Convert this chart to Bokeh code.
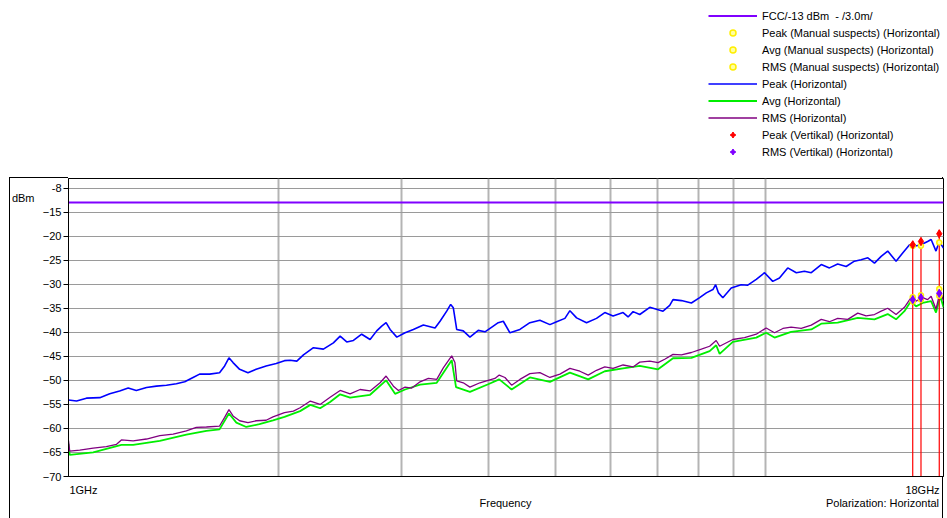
import math
from bokeh.plotting import figure
from bokeh.layouts import column
from bokeh.models import (FixedTicker, Legend, LegendItem, LinearAxis, LinearScale, Range1d)
from bokeh.embed import file_html
from bokeh.resources import INLINE

FONT = "Liberation Sans"

# ---------------- data (frequency in GHz, level in dBm) ----------------
limit_freq = [1.0, 18.0]
limit_dbm = [-13.0, -13.0]

peak_freq = [1.000, 1.027, 1.061, 1.109, 1.146, 1.184, 1.218, 1.251, 1.294, 1.337,
             1.382, 1.428, 1.468, 1.509, 1.542, 1.594, 1.647, 1.675, 1.699, 1.722,
             1.760, 1.809, 1.859, 1.921, 1.986, 2.041, 2.080, 2.126, 2.173, 2.246,
             2.321, 2.399, 2.453, 2.507, 2.563, 2.634, 2.708, 2.768, 2.814, 2.855,
             2.893, 2.958, 3.040, 3.124, 3.229, 3.356, 3.412, 3.488, 3.534, 3.565,
             3.605, 3.684, 3.766, 3.871, 3.958, 4.068, 4.135, 4.205, 4.298, 4.442,
             4.591, 4.745, 4.905, 5.015, 5.154, 5.240, 5.357, 5.536, 5.721, 5.880,
             6.043, 6.246, 6.350, 6.456, 6.600, 6.822, 6.974, 7.127, 7.286, 7.366,
             7.573, 7.827, 8.044, 8.223, 8.404, 8.480, 8.560, 8.684, 8.928, 9.227,
             9.430, 9.698, 9.967, 10.24, 10.47, 10.76, 11.07, 11.37, 11.63, 12.02,
             12.35, 12.69, 13.05, 13.41, 13.71, 14.02, 14.33, 14.65, 14.97, 15.39,
             15.73, 16.09, 16.35, 16.71, 17.08, 17.28, 17.56, 17.75, 18.0]
peak_dbm = [-54.1, -54.3, -53.7, -53.6, -52.8, -52.2, -51.6, -52.1, -51.5, -51.2,
            -51.0, -50.7, -50.3, -49.4, -48.7, -48.7, -48.4, -47.0, -45.3, -46.3,
            -47.7, -48.4, -47.7, -47.0, -46.5, -45.9, -45.8, -46.0, -44.7, -43.2,
            -43.5, -42.2, -40.8, -42.0, -41.7, -40.4, -41.5, -39.7, -38.7, -38.0,
            -39.4, -41.0, -40.1, -39.4, -38.5, -39.1, -37.7, -35.6, -34.2, -34.9,
            -39.4, -39.7, -41.0, -39.6, -39.9, -38.7, -38.0, -37.7, -40.1, -39.4,
            -38.0, -37.5, -38.4, -37.8, -37.1, -35.5, -37.0, -38.0, -37.1, -35.9,
            -36.6, -35.9, -36.8, -35.7, -36.3, -34.8, -35.2, -35.6, -34.4, -33.2,
            -33.4, -33.9, -32.8, -31.8, -31.1, -30.1, -31.8, -32.8, -30.8, -30.1,
            -30.2, -29.0, -27.6, -29.4, -28.7, -26.6, -27.6, -27.3, -27.6, -25.9,
            -26.6, -25.8, -26.3, -25.2, -24.9, -24.5, -25.6, -24.2, -23.1, -25.2,
            -23.5, -21.8, -22.1, -21.8, -21.1, -20.7, -23.1, -21.1, -22.5]

rms_freq = [1.000, 1.004, 1.038, 1.085, 1.133, 1.172, 1.191, 1.238, 1.294, 1.352,
            1.413, 1.476, 1.525, 1.577, 1.647, 1.675, 1.699, 1.722, 1.760, 1.809,
            1.859, 1.921, 1.965, 2.041, 2.102, 2.149, 2.223, 2.296, 2.373, 2.453,
            2.535, 2.620, 2.708, 2.799, 2.855, 2.925, 2.974, 3.040, 3.108, 3.194,
            3.283, 3.375, 3.449, 3.546, 3.584, 3.605, 3.684, 3.766, 3.893, 4.000,
            4.090, 4.149, 4.228, 4.322, 4.442, 4.591, 4.745, 4.905, 5.070, 5.240,
            5.415, 5.566, 5.721, 5.880, 6.043, 6.246, 6.456, 6.600, 6.822, 7.011,
            7.167, 7.366, 7.573, 7.827, 8.089, 8.313, 8.495, 8.592, 8.975, 9.328,
            9.698, 10.02, 10.30, 10.59, 10.88, 11.25, 11.63, 12.02, 12.35, 12.69,
            13.12, 13.56, 13.94, 14.33, 14.65, 14.97, 15.39, 15.82, 16.17, 16.44,
            16.80, 17.08, 17.28, 17.56, 17.81, 18.0]
rms_dbm = [-62.5, -64.7, -64.5, -64.1, -63.8, -63.3, -62.4, -62.6, -62.2, -61.5,
           -61.2, -60.5, -59.8, -59.7, -59.5, -57.7, -56.1, -57.4, -58.4, -58.8,
           -58.4, -58.3, -57.6, -56.7, -56.4, -55.7, -54.3, -55.0, -53.5, -52.1,
           -52.8, -51.9, -52.2, -50.5, -49.1, -51.2, -52.1, -51.4, -51.6, -50.3,
           -49.6, -49.8, -47.4, -44.9, -46.3, -50.1, -50.5, -51.4, -50.5, -50.0,
           -49.6, -48.9, -49.4, -51.0, -49.8, -48.6, -48.4, -49.4, -48.7, -47.5,
           -48.1, -48.9, -47.9, -47.2, -47.5, -46.8, -47.2, -46.2, -46.0, -46.3,
           -45.6, -44.6, -44.7, -44.2, -43.5, -42.9, -41.7, -42.9, -41.5, -41.1,
           -40.4, -39.1, -40.1, -39.2, -38.9, -39.2, -38.5, -37.3, -37.8, -37.1,
           -37.3, -36.0, -36.6, -36.3, -35.6, -35.0, -36.3, -34.8, -32.8, -33.5,
           -32.8, -33.2, -32.5, -35.2, -31.4, -33.5]

avg_freq = [1.000, 1.004, 1.085, 1.191, 1.238, 1.352, 1.476, 1.577, 1.647, 1.699,
            1.741, 1.799, 1.879, 1.965, 2.041, 2.149, 2.223, 2.296, 2.373, 2.453,
            2.535, 2.708, 2.855, 2.941, 3.040, 3.194, 3.375, 3.546, 3.597, 3.766,
            4.000, 4.149, 4.322, 4.591, 4.905, 5.240, 5.566, 5.880, 6.246, 6.600,
            7.011, 7.366, 7.827, 8.313, 8.495, 8.592, 8.975, 9.698, 10.02, 10.30,
            10.88, 11.63, 12.02, 12.69, 13.56, 14.33, 14.97, 15.39, 15.82, 16.17,
            16.44, 16.80, 17.28, 17.56, 17.81, 18.0]
avg_dbm = [-63.2, -65.5, -65.0, -63.4, -63.4, -62.6, -61.3, -60.5, -60.2, -56.9,
           -58.8, -59.7, -59.1, -58.3, -57.6, -56.4, -55.1, -55.8, -54.5, -52.9,
           -53.6, -53.0, -50.0, -52.8, -51.9, -50.9, -50.5, -45.8, -51.4, -52.4,
           -50.8, -49.8, -51.9, -49.4, -50.3, -48.4, -49.8, -48.1, -47.5, -47.0,
           -47.7, -45.4, -45.3, -43.9, -42.7, -44.5, -42.0, -41.1, -40.1, -41.1,
           -39.9, -39.4, -38.2, -38.0, -37.0, -37.3, -36.2, -37.3, -35.6, -33.5,
           -34.6, -33.9, -33.5, -35.9, -32.5, -34.8]

marker_freq = [16.26, 16.71, 17.75]
peak_marker_dbm = [-21.8, -21.1, -19.5]
rms_marker_dbm = [-33.2, -32.8, -31.9]
suspect_peak_dbm = [-22.0, -22.0, -21.3]
suspect_avg_dbm = [-33.6, -33.2, -32.4]
suspect_rms_dbm = [-32.7, -32.3, -31.0]
marker_floor = [-70.0, -70.0, -70.0]

y_ticks = [-70, -65, -60, -55, -50, -45, -40, -35, -30, -25, -20, -15, -10]
y_top_label = {-10: "-8"}
x_grid_ticks = [2, 3, 4, 5, 6, 7, 8, 9, 10]

# texts placed along the frame edges (positions across the frame, px)
freq_end_labels = {15: "1GHz", 854: "18GHz"}
footer_labels = {437: "Frequency", 814: "Polarization: Horizontal"}
unit_label = {-12: "dBm"}

W = 947
LEG_H = 177
H = 518 - LEG_H
ML, MR, MT, MB = 68, 4, 1, 42
FW, FH = W - ML - MR, H - MT - MB

# ---------------- styles shared by plot and legend ----------------
LIMIT = dict(line_color="#8000ff", line_width=2)
AVG = dict(line_color="#00ee00", line_width=1.8)
RMS = dict(line_color="#800080", line_width=1.3)
PEAK = dict(line_color="#0000ff", line_width=1.6)
SUSPECT = dict(marker="circle", size=5, line_color="#ffee00", fill_color="#ffffa0", line_width=1.5)
PM_DASH = dict(marker="dash", angle=math.pi / 2, size=8, line_color="#ff0000", line_width=1.5)
PM = dict(marker="diamond", size=8, line_color="#ff0000", fill_color="#ff0000")
RM_DASH = dict(marker="dash", angle=math.pi / 2, size=8, line_color="#8000ff", line_width=1.5)
RM = dict(marker="diamond", size=8, line_color="#8000ff", fill_color="#8000ff")

# ---------------- main chart ----------------
p = figure(width=W, height=H, x_axis_type="log",
           x_range=Range1d(1, 18), y_range=Range1d(-70, -8),
           output_backend="svg", toolbar_location=None,
           min_border_left=ML, min_border_right=MR,
           min_border_top=MT, min_border_bottom=MB)
p.title.visible = False
p.background_fill_color = "white"
p.border_fill_alpha = 0
p.outline_line_color = "black"
p.outline_line_width = 1
# outer box of the chart area: left edge, top edge left of the frame, right edge
p.styles = {
    "background-color": "white",
    "background-image": "linear-gradient(#000,#000), linear-gradient(#000,#000), linear-gradient(#000,#000)",
    "background-size": f"1px {H}px, {ML - 9}px 1px, 1px {H}px",
    "background-position": f"9px 0px, 9px 0px, {W - MR - 1}px 0px",
    "background-repeat": "no-repeat",
}

p.extra_x_ranges = {"pos": Range1d(0, FW)}
p.extra_x_scales = {"pos": LinearScale()}

def text_axis(**kw):
    base = dict(major_tick_out=0, major_tick_in=0, minor_tick_out=0, minor_tick_in=0,
                major_label_text_font=FONT, major_label_text_font_size="11px",
                major_label_text_color="black", axis_line_alpha=0)
    base.update(kw)
    return LinearAxis(**base)

yax = p.yaxis[0]
yax.ticker = FixedTicker(ticks=y_ticks)
yax.major_label_overrides = y_top_label
yax.major_label_text_font = FONT
yax.major_label_text_font_size = "11px"
yax.major_label_text_color = "black"
yax.major_label_standoff = 2
yax.major_tick_out = 5
yax.major_tick_in = 0
yax.minor_tick_out = 0
yax.minor_tick_in = 0
yax.major_tick_line_color = "black"
yax.axis_line_color = "black"

p.add_layout(text_axis(ticker=FixedTicker(ticks=list(unit_label.keys())),
                       major_label_overrides=unit_label, major_label_standoff=5), "left")

xax = p.xaxis[0]
xax.ticker = FixedTicker(ticks=x_grid_ticks)
xax.major_label_overrides = {t: "" for t in x_grid_ticks}
xax.major_label_text_font_size = "11px"
xax.major_label_standoff = 0
xax.major_tick_out = 0
xax.major_tick_in = 0
xax.minor_tick_out = 0
xax.minor_tick_in = 0
xax.axis_line_color = "black"

p.add_layout(text_axis(x_range_name="pos",
                       ticker=FixedTicker(ticks=list(freq_end_labels.keys())),
                       major_label_overrides=freq_end_labels, major_label_standoff=7), "below")
p.add_layout(text_axis(x_range_name="pos",
                       ticker=FixedTicker(ticks=list(footer_labels.keys())),
                       major_label_overrides=footer_labels, major_label_standoff=-2), "below")

p.ygrid.grid_line_color = "#9a9a9a"
p.ygrid.grid_line_width = 1.2
p.xgrid.grid_line_color = "#b4b4b4"
p.xgrid.grid_line_width = 2

p.line(limit_freq, limit_dbm, **LIMIT)
p.line(avg_freq, avg_dbm, **AVG)
p.line(rms_freq, rms_dbm, **RMS)
p.line(peak_freq, peak_dbm, **PEAK)
p.segment(marker_freq, peak_marker_dbm, marker_freq, marker_floor,
          line_color="#ff0000", line_width=1.2)
p.scatter(marker_freq, suspect_peak_dbm, **SUSPECT)
p.scatter(marker_freq, suspect_avg_dbm, **SUSPECT)
p.scatter(marker_freq, suspect_rms_dbm, **SUSPECT)
p.scatter(marker_freq, peak_marker_dbm, **PM_DASH)
p.scatter(marker_freq, peak_marker_dbm, **PM)
p.scatter(marker_freq, rms_marker_dbm, **RM_DASH)
p.scatter(marker_freq, rms_marker_dbm, **RM)

# ---------------- legend strip above the chart ----------------
# (its ranges lie outside the data, so only the legend keys show)
lg = figure(width=W, height=LEG_H, x_range=Range1d(100, 101), y_range=Range1d(100, 101),
            x_axis_location=None, y_axis_location=None,
            output_backend="svg", toolbar_location=None, min_border=0)
lg.title.visible = False
lg.outline_line_color = None
lg.grid.visible = False
lg.background_fill_color = "white"
lg.border_fill_color = "white"

k_limit = lg.line(limit_freq, limit_dbm, **LIMIT)
k_sp = lg.scatter(marker_freq, suspect_peak_dbm, **SUSPECT)
k_sa = lg.scatter(marker_freq, suspect_avg_dbm, **SUSPECT)
k_sr = lg.scatter(marker_freq, suspect_rms_dbm, **SUSPECT)
k_peak = lg.line(peak_freq, peak_dbm, **PEAK)
k_avg = lg.line(avg_freq, avg_dbm, **AVG)
k_rms = lg.line(rms_freq, rms_dbm, **RMS)
k_pm_dash = lg.scatter(marker_freq, peak_marker_dbm, **PM_DASH)
k_pm = lg.scatter(marker_freq, peak_marker_dbm, **PM)
k_rm_dash = lg.scatter(marker_freq, rms_marker_dbm, **RM_DASH)
k_rm = lg.scatter(marker_freq, rms_marker_dbm, **RM)

items = [
    LegendItem(label="FCC/-13 dBm  - /3.0m/", renderers=[k_limit]),
    LegendItem(label="Peak (Manual suspects) (Horizontal)", renderers=[k_sp]),
    LegendItem(label="Avg (Manual suspects) (Horizontal)", renderers=[k_sa]),
    LegendItem(label="RMS (Manual suspects) (Horizontal)", renderers=[k_sr]),
    LegendItem(label="Peak (Horizontal)", renderers=[k_peak]),
    LegendItem(label="Avg (Horizontal)", renderers=[k_avg]),
    LegendItem(label="RMS (Horizontal)", renderers=[k_rms]),
    LegendItem(label="Peak (Vertikal) (Horizontal)", renderers=[k_pm_dash, k_pm]),
    LegendItem(label="RMS (Vertikal) (Horizontal)", renderers=[k_rm_dash, k_rm]),
]
legend = Legend(items=items, location=(640, 18), orientation="vertical",
                glyph_width=49, glyph_height=15, label_height=15, spacing=2,
                padding=0, margin=0, label_standoff=5,
                label_text_font=FONT, label_text_font_size="11px",
                label_text_color="black",
                border_line_alpha=0, background_fill_alpha=0)
lg.add_layout(legend, "center")

open("out.html", "w").write(file_html(column(lg, p, spacing=0), INLINE))
